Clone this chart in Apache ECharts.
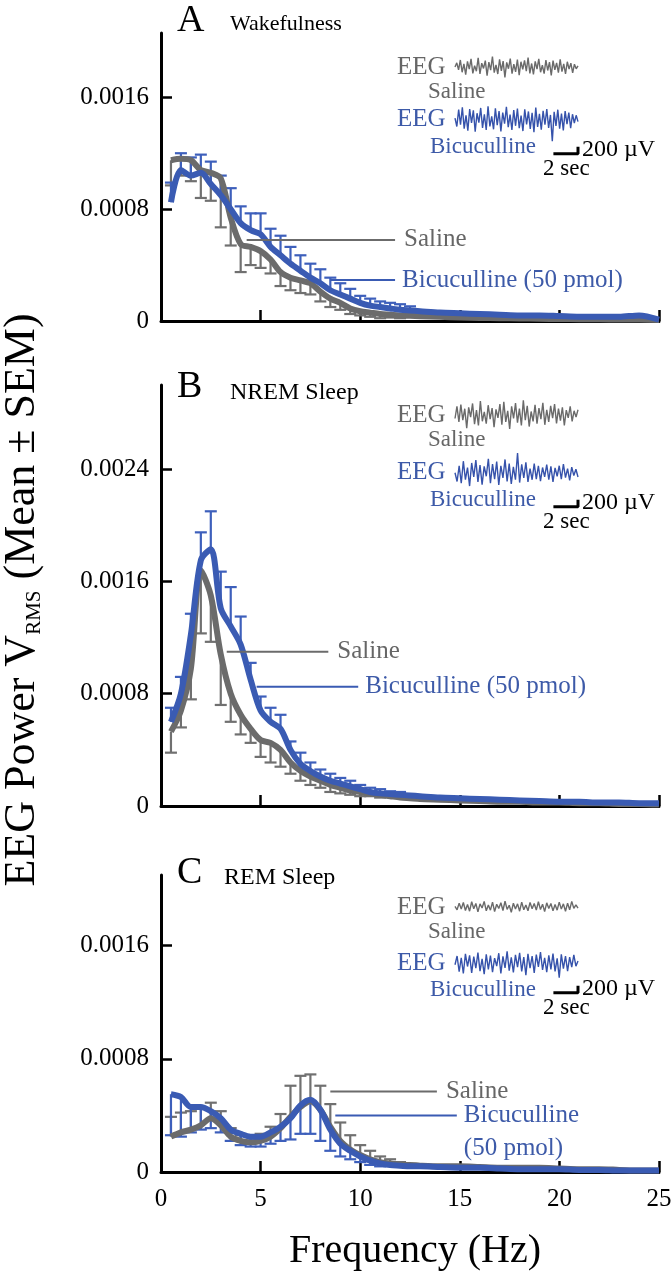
<!DOCTYPE html>
<html><head><meta charset="utf-8">
<script src="https://cdn.jsdelivr.net/npm/echarts@6/dist/echarts.min.js"></script>
<style>html,body{margin:0;padding:0;background:#fff}#c{width:672px;height:1280px}</style>
</head><body><div id="c"></div>
<script>
// ---------- DATA ----------
const freq = [0.5,1,1.5,2,2.5,3,3.5,4,4.5,5,5.5,6,6.5,7,7.5,8,8.5,9,9.5,10,10.5,11,11.5,12,12.5,13,14,15,16,17,18,19,20,21,22,23,24,25];

// A: Wakefulness
const wakeSaline = [0.00115,0.00116,0.00115,0.00108,0.00106,0.00102,0.00074,0.00055,0.00053,0.00050,0.00044,0.00035,0.00031,0.00029,0.00027,0.00021,0.00016,0.00013,0.00009,0.00007,0.00006,0.00005,0.000045,0.00004,0.000037,0.000034,0.00003,0.000025,0.000022,0.00002,0.000018,0.000016,0.000014,0.000013,0.000012,0.000011,0.00001,0.000008];
const wakeBic = [0.00085,0.00108,0.00104,0.00106,0.00098,0.00090,0.00080,0.00070,0.00065,0.00062,0.00053,0.00047,0.00041,0.00036,0.00031,0.00027,0.00022,0.00019,0.00016,0.00013,0.00011,0.0001,0.00009,0.00008,0.000075,0.00007,0.00006,0.000055,0.00005,0.000045,0.00004,0.00004,0.000035,0.00003,0.00003,0.00003,0.00004,0.00001];
const wakeSalineSem = [0.00018,0.00012,0.00015,0.0002,0.0002,0.00035,0.0002,0.0002,0.00013,0.00012,0.0001,0.0001,0.00009,0.00009,0.00008,0.00007,0.00006,0.00005,0.00004,0.00003,0.00003,0.00003,0.00002,0.00002];
const wakeBicSem = [0.00014,0.00012,0.00013,0.00013,0.00016,0.00014,0.00015,0.00012,0.00012,0.00015,0.00013,0.00014,0.00012,0.00011,0.0001,0.0001,0.00009,0.00008,0.00007,0.00005,0.00005,0.00004,0.00004,0.00004,0.00003];

// B: NREM Sleep
const nremSaline = [0.00053,0.00068,0.00098,0.00168,0.0015,0.00108,0.0008,0.00065,0.00055,0.00047,0.00045,0.0004,0.00031,0.00025,0.00021,0.00018,0.00015,0.00013,0.00011,0.0001,0.00009,0.00008,0.00007,0.00006,0.000055,0.00005,0.000045,0.00004,0.000035,0.00003,0.00003,0.000025,0.000025,0.00002,0.00002,0.000015,0.000015,0.00001];
const nremBic = [0.0006,0.0008,0.00122,0.00175,0.00183,0.00141,0.00128,0.00115,0.0009,0.00068,0.0006,0.00055,0.0004,0.0003,0.00025,0.00021,0.00018,0.00016,0.00014,0.00012,0.0001,0.00009,0.000085,0.00008,0.000075,0.00007,0.00006,0.000055,0.00005,0.000045,0.00004,0.000035,0.00003,0.00003,0.000025,0.000025,0.00002,0.00002];
const nremSalineSem = [0.00015,0.00012,0.00022,0.00045,0.00033,0.00036,0.0002,0.00014,0.0001,0.00012,0.00014,0.00012,0.00008,0.00007,0.00006,0.00005,0.00005,0.00004,0.00003,0.00003,0.00002,0.00002];
const nremBicSem = [0.0001,0.00012,0.00015,0.0002,0.00027,0.00026,0.00028,0.0002,0.00012,0.0001,0.0001,0.0001,0.00006,0.00008,0.00006,0.00005,0.00005,0.00004,0.00004,0.00003,0.00003,0.00003,0.00002,0.00002];

// C: REM Sleep
const remSaline = [0.00025,0.00028,0.0003,0.00033,0.00038,0.00033,0.00025,0.00022,0.00021,0.00022,0.00025,0.00031,0.00039,0.00046,0.0005,0.00044,0.00032,0.00022,0.00016,0.00012,0.00009,0.00007,0.00006,0.00005,0.00005,0.000045,0.00004,0.00004,0.000035,0.00003,0.00003,0.00003,0.000025,0.00002,0.00002,0.000015,0.00001,0.00001];
const remBic = [0.00055,0.00053,0.00046,0.00046,0.00043,0.00038,0.0003,0.00027,0.00025,0.00025,0.00028,0.00032,0.00038,0.00047,0.00051,0.00044,0.0003,0.0002,0.00015,0.00011,0.00008,0.00006,0.00005,0.000045,0.00004,0.00004,0.000035,0.00003,0.00003,0.000025,0.00002,0.00002,0.00002,0.000015,0.000015,0.00001,0.00001,0.00001];
const remSalineSem = [0.00014,0.00014,0.00013,0.00012,0.00011,0.0001,0.00006,0.00004,0.00004,0.00005,0.00007,0.0001,0.00022,0.00022,0.00019,0.00017,0.00016,0.00013,0.0001,0.00007,0.00006,0.00004,0.00003,0.00002];
const remBicSem = [0.00029,0.00028,0.00018,0.00016,0.00012,0.0001,0.00008,0.00008,0.00007,0.00007,0.00008,0.0001,0.00015,0.0002,0.00024,0.00022,0.00015,0.00009,0.00006,0.00004,0.00003,0.00002];

// leader lines for the in-plot labels [Hz, value]
const wakeSalineLead = [[4.3,0.00058],[11.75,0.00058]];
const wakeBicLead = [[8.5,0.000293],[11.75,0.000293]];
const nremSalineLead = [[3.3,0.0011],[8.4,0.0011]];
const nremBicLead = [[4.8,0.00085],[9.9,0.00085]];
const remSalineLead = [[8.5,0.00057],[13.85,0.00057]];
const remBicLead = [[8.75,0.0004],[14.85,0.0004]];

// tick labels
const xTicks = [0,5,10,15,20,25];
const wakeYTicks = [0,0.0008,0.0016];
const nremYTicks = [0,0.0008,0.0016,0.0024];
const remYTicks = [0,0.0008,0.0016];

// example EEG traces (µV), 10 s each
const eegWakeSaline = [0,120,-80,200,-150,90,-220,160,-60,230,-180,40,-120,260,-200,110,-40,180,-250,140,-90,300,-160,60,-200,220,-110,170,-300,130,-50,240,-190,80,-140,210,-230,150,-70,190,-120,270,-180,100,-210,160,-60,230,-150,50,-190,200,-100,140,-240,180,-80,120,-160,220,-130,90,-200,150,-60,110,-170,80,-50,30];
const eegWakeBic = [40,-200,280,-150,350,-260,120,-320,300,-100,260,-350,180,-90,330,-240,150,-300,380,-200,90,-280,320,-160,240,-340,200,-120,360,-220,140,-300,270,-180,310,-250,110,-330,290,-140,230,-270,190,-360,340,-210,160,-290,250,-150,300,-240,130,-620,220,-180,280,-260,170,-310,240,-130,200,-250,150,-100,120,-60];
const eegNremSaline = [-100,250,-200,300,-150,180,-380,220,-60,330,-260,140,-300,400,-180,90,-250,280,-120,200,-350,160,-80,310,-280,380,-200,120,-400,250,-100,340,-220,180,-300,420,-150,260,-330,100,-180,290,-250,200,-120,350,-280,150,-200,260,-90,310,-240,180,-160,220,-300,140,-80,250,-180,120,-60,150];
const eegNremBic = [0,-250,200,-300,330,-200,150,-380,280,-120,360,-260,220,-340,180,-100,400,-300,250,-180,320,-350,200,-150,380,-250,260,-320,170,-200,560,-280,240,-150,300,-260,120,-200,260,-180,200,-240,150,-120,230,-200,180,-260,140,-100,200,-180,250,-140,120,-220,160,-80,100,-120];
const eegRemSaline = [20,-80,110,-60,130,-100,70,-120,150,-50,100,-140,90,-30,160,-110,60,-90,140,-130,80,-40,120,-100,170,-70,50,-150,110,-60,90,-120,140,-80,60,-110,130,-50,100,-90,150,-70,80,-130,120,-40,100,-110,70,-90,140,-60,90,-120,110,-80,160,-40,60,-30];
const eegRemBic = [-50,200,-250,150,-300,260,-100,220,-280,180,-150,300,-230,120,-320,250,-180,210,-260,140,-90,280,-300,190,-140,330,-220,160,-270,230,-120,290,-240,170,-350,260,-150,200,-280,240,-110,310,-200,150,-260,220,-180,270,-240,130,-420,250,-160,200,-230,170,-120,230,-90,60];
const scaleBarSec = 2, scaleBarUV = 200, traceSec = 10;

// ---------- STYLE / LAYOUT ----------
const FONT = 'Liberation Serif';
const GRAY = '#6b6b6b', BLUE = '#3a5bb3', GRAY_T = '#666666', BLUE_T = '#3d5aa8';
const panels = [
  {key:'A', title:'Wakefulness', top:33, h:288, max:0.00206, yt:wakeYTicks, sal:wakeSaline, bic:wakeBic, salSem:wakeSalineSem, bicSem:wakeBicSem, salDir:-1, bicDir:1, salLead:wakeSalineLead, bicLead:wakeBicLead, bicLabel:'Bicuculline (50 pmol)', eegS:eegWakeSaline, eegB:eegWakeBic, sc:67, bicOff:-1500, barOff:-2480, letterY:21, titleY:24, showX:false},
  {key:'B', title:'NREM Sleep', top:385, h:421, max:0.003, yt:nremYTicks, sal:nremSaline, bic:nremBic, salSem:nremSalineSem, bicSem:nremBicSem, salDir:-1, bicDir:1, salLead:nremSalineLead, bicLead:nremBicLead, bicLabel:'Bicuculline (50 pmol)', eegS:eegNremSaline, eegB:eegNremBic, sc:415, bicOff:-1650, barOff:-2620, letterY:387, titleY:393, showX:false},
  {key:'C', title:'REM Sleep', top:875, h:297, max:0.0021, yt:remYTicks, sal:remSaline, bic:remBic, salSem:remSalineSem, bicSem:remBicSem, salDir:1, bicDir:-1, salLead:remSalineLead, bicLead:remBicLead, bicLabel:'Bicuculline\n(50 pmol)', eegS:eegRemSaline, eegB:eegRemBic, sc:907, bicOff:-1600, barOff:-2450, letterY:873, titleY:878, showX:true}
];
const PXPERUV = 0.035, INSET_ABOVE = 25, INSET_H = 125;

function errRender(dir, color) {
  return function (params, api) {
    const x = api.value(0), y = api.value(1), e = api.value(2);
    const p0 = api.coord([x, y]);
    const p1 = api.coord([x, y + dir * e]);
    const cap = 6;
    return {type:'group', children:[
      {type:'line', shape:{x1:p0[0], y1:p0[1], x2:p1[0], y2:p1[1]}, style:{stroke:color, lineWidth:2.2}},
      {type:'line', shape:{x1:p1[0]-cap, y1:p1[1], x2:p1[0]+cap, y2:p1[1]}, style:{stroke:color, lineWidth:2.2}}
    ]};
  };
}
function errData(mean, sem) {
  const out = [];
  sem.forEach((e, i) => { if (e != null) out.push([freq[i], mean[i], e]); });
  return out;
}
function pairs(vals) { return freq.map((f, i) => [f, vals[i]]); }
function trace(vals, off) { return vals.map((v, i) => [i * traceSec / (vals.length - 1), v + off]); }

const grid = [], xAxis = [], yAxis = [], series = [], graphic = [];
panels.forEach((p) => {
  const i = grid.length;
  grid.push({left:161, width:498, top:p.top, height:p.h, outerBoundsMode:'none'});
  xAxis.push({type:'value', gridIndex:i, min:0, max:25, interval:5,
    axisLine:{show:true, onZero:false, lineStyle:{color:'#000', width:3}},
    axisTick:{show:true, inside:true, length:11, lineStyle:{color:'#000', width:2.5}},
    axisLabel:{show:p.showX, customValues:xTicks, color:'#000', fontFamily:FONT, fontSize:25, margin:15},
    splitLine:{show:false}});
  yAxis.push({type:'value', gridIndex:i, min:0, max:p.max,
    axisLine:{show:true, onZero:false, lineStyle:{color:'#000', width:3}},
    axisTick:{show:true, inside:true, length:11, customValues:p.yt, lineStyle:{color:'#000', width:2.5}},
    axisLabel:{show:true, customValues:p.yt, color:'#000', fontFamily:FONT, fontSize:25, margin:12,
      formatter: v => v === 0 ? '0' : v.toFixed(4)},
    splitLine:{show:false}});
  series.push({type:'custom', xAxisIndex:i, yAxisIndex:i, renderItem:errRender(p.salDir, '#707070'), data:errData(p.sal, p.salSem), encode:{x:0, y:1}, z:1, silent:true});
  series.push({type:'custom', xAxisIndex:i, yAxisIndex:i, renderItem:errRender(p.bicDir, '#3d5fbb'), data:errData(p.bic, p.bicSem), encode:{x:0, y:1}, z:1, silent:true});
  series.push({type:'line', xAxisIndex:i, yAxisIndex:i, data:pairs(p.sal), smooth:0.3, showSymbol:false, lineStyle:{color:GRAY, width:6}, z:2});
  series.push({type:'line', xAxisIndex:i, yAxisIndex:i, data:pairs(p.bic), smooth:0.3, showSymbol:false, lineStyle:{color:BLUE, width:6}, z:3});
  series.push({type:'line', xAxisIndex:i, yAxisIndex:i, data:p.salLead, showSymbol:false, lineStyle:{color:GRAY, width:2}, z:4,
    endLabel:{show:true, formatter:'Saline', color:GRAY_T, fontFamily:FONT, fontSize:25, distance:9}});
  const bicEnd = {show:true, formatter:p.bicLabel, color:BLUE_T, fontFamily:FONT, fontSize:25, distance:7};
  if (p.key === 'C') { bicEnd.verticalAlign = 'top'; bicEnd.lineHeight = 33; bicEnd.offset = [0, -16]; }
  series.push({type:'line', xAxisIndex:i, yAxisIndex:i, data:p.bicLead, showSymbol:false, lineStyle:{color:BLUE, width:2}, z:4, endLabel:bicEnd});

  // inset EEG traces
  const gi = grid.length;
  const ymax = INSET_ABOVE / PXPERUV, ymin = ymax - INSET_H / PXPERUV;
  grid.push({left:455, width:123, top:p.sc - INSET_ABOVE, height:INSET_H, outerBoundsMode:'none'});
  xAxis.push({type:'value', gridIndex:gi, min:0, max:traceSec, show:false});
  yAxis.push({type:'value', gridIndex:gi, min:ymin, max:ymax, show:false});
  series.push({type:'line', xAxisIndex:gi, yAxisIndex:gi, data:trace(p.eegS, 0), showSymbol:false, lineStyle:{color:'#6a6a6a', width:1.4}, z:5});
  series.push({type:'line', xAxisIndex:gi, yAxisIndex:gi, data:trace(p.eegB, p.bicOff), showSymbol:false, lineStyle:{color:'#3552ab', width:1.4}, z:5});
  series.push({type:'line', xAxisIndex:gi, yAxisIndex:gi, data:[[traceSec - scaleBarSec, p.barOff],[traceSec, p.barOff],[traceSec, p.barOff + scaleBarUV]], showSymbol:false, lineStyle:{color:'#000', width:3}, z:5});

  const bc = p.sc - p.bicOff * PXPERUV, by = p.sc - p.barOff * PXPERUV;
  const t = (text, x, y, fill, size) => ({type:'text', x, y, style:{text, fill, fontFamily:FONT, fontSize:size, align:'left', verticalAlign:'middle'}});
  graphic.push(t(p.key, 177, p.letterY, '#000', 38));
  graphic.push(t(p.title, p.key === 'C' ? 224 : 230, p.titleY, '#000', p.key === 'A' ? 22 : 24));
  graphic.push(t('EEG', 397, p.sc, GRAY_T, 25));
  graphic.push(t('Saline', 428, p.sc + 25, GRAY_T, 23));
  graphic.push(t('EEG', 397, bc, BLUE_T, 25));
  graphic.push(t('Bicuculline', 430, bc + 27, BLUE_T, 23));
  graphic.push(t('200 µV', 582, by - 4, '#000', 24));
  graphic.push(t('2 sec', 543, by + 15, '#000', 23));
});

graphic.push({type:'text', x:22, y:600, rotation:Math.PI/2, style:{
  text:'{a|EEG Power V}{s|RMS}{a| (Mean ± SEM)}', align:'center', verticalAlign:'middle',
  rich:{a:{fontFamily:FONT, fontSize:44, lineHeight:46, fill:'#000'}, s:{fontFamily:FONT, fontSize:21, lineHeight:16, verticalAlign:'bottom', fill:'#000'}}}});
graphic.push({type:'text', x:415, y:1251, style:{text:'Frequency (Hz)', fill:'#000', fontFamily:FONT, fontSize:40, align:'center', verticalAlign:'middle'}});

const chart = echarts.init(document.getElementById('c'), null, {renderer:'canvas'});
chart.setOption({animation:false, backgroundColor:'#fff', grid, xAxis, yAxis, series, graphic});
</script></body></html>
